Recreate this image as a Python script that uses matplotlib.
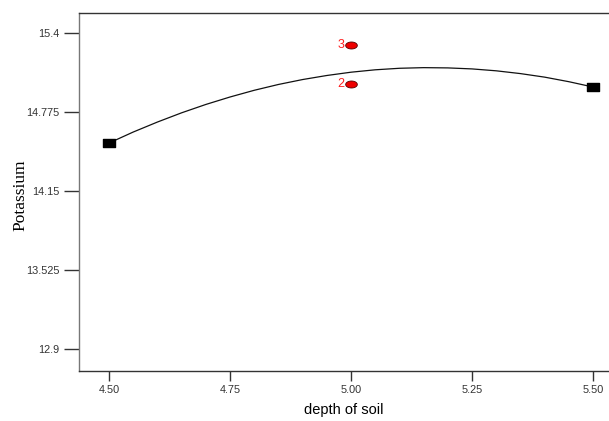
import numpy as np
import matplotlib
matplotlib.use("Agg")
import matplotlib.pyplot as plt
from matplotlib.path import Path

# model curve
curve_x = [4.5, 4.55, 4.6, 4.65, 4.7, 4.75, 4.8, 4.85, 4.9, 4.95, 5.0,
           5.05, 5.1, 5.15, 5.2, 5.25, 5.3, 5.35, 5.4, 5.45, 5.5]
curve_y = [14.53, 14.617, 14.696, 14.769, 14.835, 14.894, 14.947, 14.993, 15.032, 15.064, 15.09,
           15.109, 15.121, 15.126, 15.124, 15.116, 15.101, 15.079, 15.051, 15.015, 14.973]

# design points at the ends (squares)
end_x = [4.5, 5.5]
end_y = [14.53, 14.973]

# centre points (red, labelled with replicate count)
pt_x = [5.0, 5.0]
pt_y = [15.305, 14.998]
pt_lab = ["3", "2"]

yticks = [12.9, 13.525, 14.15, 14.775, 15.4]
ytick_labels = ["12.9", "13.525", "14.15", "14.775", "15.4"]
xticks = [4.50, 4.75, 5.00, 5.25, 5.50]
xtick_labels = ["4.50", "4.75", "5.00", "5.25", "5.50"]

fig = plt.figure(figsize=(6.09, 4.21), dpi=100)
ax = fig.add_axes([79/609, 1-371/421, 530/609, (371-13)/421])

ax.plot(curve_x, curve_y, color="#111111", lw=0.9)

rect = Path([(-1, -0.55), (1, -0.55), (1, 0.55), (-1, 0.55), (-1, -0.55)],
            [Path.MOVETO, Path.LINETO, Path.LINETO, Path.LINETO, Path.CLOSEPOLY])
ax.plot(end_x, end_y, ls="none", marker=rect, ms=9.2, color="black", zorder=3)

ell_t = np.linspace(0, 2*np.pi, 40)
ell = Path(np.column_stack([np.cos(ell_t), 0.6*np.sin(ell_t)]))
ax.plot(pt_x, pt_y, ls="none", marker=ell, ms=8.4, mfc="#ee0000", mec="#550000", mew=0.6, zorder=3)
for x, y, t in zip(pt_x, pt_y, pt_lab):
    ax.text(x - 0.014, y, t, color="#ff2020", fontsize=9, ha="right", va="center",
            family="Liberation Sans")

ax.set_xlim(4.438, 5.533)
ax.set_ylim(12.728, 15.558)
ax.set_yticks(yticks)
ax.set_yticklabels(ytick_labels)
ax.set_xticks(xticks)
ax.set_xticklabels(xtick_labels)
ax.tick_params(axis="y", direction="out", length=11, width=1, labelsize=7.8, pad=3, colors="#333333")
ax.tick_params(axis="x", direction="out", length=7, width=1, labelsize=7.8, pad=3, colors="#333333")
for lab in ax.get_xticklabels() + ax.get_yticklabels():
    lab.set_family("Liberation Sans")

ax.spines["right"].set_visible(False)
for s in ["left", "bottom", "top"]:
    ax.spines[s].set_color("#333333")
    ax.spines[s].set_linewidth(1)
ax.spines["left"].set_color("#777777")

ax.set_xlabel("depth of soil", family="Liberation Sans", fontsize=10.5, labelpad=6)
ax.set_ylabel("Potassium", family="Liberation Serif", fontsize=12.5)
ax.yaxis.set_label_coords(-0.095, 0.49)

fig.savefig("out.png", dpi=100)
